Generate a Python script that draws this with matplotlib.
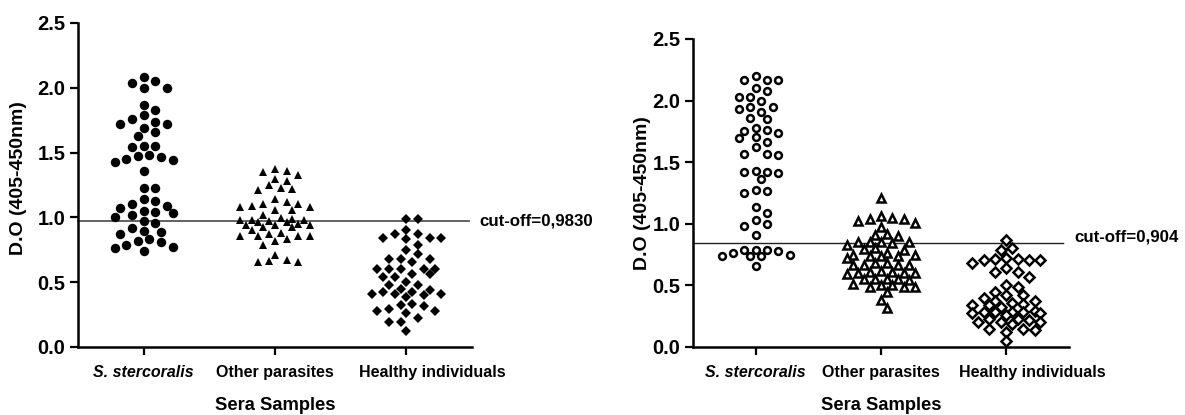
import numpy as np
import matplotlib.pyplot as plt
from matplotlib.transforms import ScaledTranslation

plt.rcParams['font.family'] = ['Liberation Sans', 'DejaVu Sans']
plt.rcParams['font.weight'] = 'bold'

categories = ['S. stercoralis', 'Other parasites', 'Healthy individuals']
y_ticks = [0.0, 0.5, 1.0, 1.5, 2.0, 2.5]

# left panel: D.O values
left_strongy = [2.08, 2.04, 2.00, 2.00, 2.05, 1.87, 1.83, 1.79, 1.76, 1.735, 1.72, 1.72,
                1.69, 1.66, 1.625, 1.55, 1.55, 1.54, 1.485, 1.465, 1.47, 1.45, 1.44, 1.43,
                1.355, 1.225, 1.225, 1.14, 1.125, 1.10, 1.09, 1.07, 1.05, 1.045, 1.03, 1.02,
                1.00, 0.97, 0.955, 0.915, 0.895, 0.885, 0.87, 0.83, 0.815, 0.81, 0.79,
                0.775, 0.765, 0.74]
left_other = [1.37, 1.36, 1.35, 1.33, 1.30, 1.28, 1.25, 1.23, 1.22, 1.21, 1.145, 1.12,
              1.10, 1.10, 1.09, 1.08, 1.08, 1.06, 1.06, 1.02, 0.995, 0.99, 0.98, 0.98,
              0.98, 0.975, 0.965, 0.965, 0.95, 0.945, 0.94, 0.94, 0.925, 0.925, 0.90,
              0.88, 0.87, 0.86, 0.86, 0.86, 0.855, 0.835, 0.82, 0.79, 0.71, 0.67, 0.66,
              0.655, 0.655]
left_healthy = [0.985, 0.985, 0.90, 0.875, 0.875, 0.84, 0.84, 0.84, 0.83, 0.79, 0.745,
                0.715, 0.68, 0.68, 0.68, 0.655, 0.605, 0.605, 0.605, 0.605, 0.605, 0.565,
                0.565, 0.54, 0.54, 0.505, 0.48, 0.48, 0.45, 0.44, 0.425, 0.425, 0.405,
                0.405, 0.405, 0.40, 0.385, 0.33, 0.32, 0.325, 0.295, 0.275, 0.275, 0.26,
                0.22, 0.195, 0.19, 0.125]
left_cutoff = 0.97
left_cutoff_label = 'cut-off=0,9830'

# right panel
right_strongy = [2.20, 2.17, 2.17, 2.17, 2.10, 2.08, 2.03, 2.03, 2.00, 1.95, 1.945, 1.93,
                 1.91, 1.855, 1.85, 1.78, 1.76, 1.755, 1.735, 1.705, 1.695, 1.66, 1.625,
                 1.57, 1.57, 1.56, 1.425, 1.42, 1.42, 1.41, 1.36, 1.275, 1.265, 1.25,
                 1.14, 1.085, 1.03, 1.00, 0.98, 0.91, 0.79, 0.79, 0.785, 0.78, 0.76, 0.75,
                 0.74, 0.74, 0.735, 0.655]
right_other = [1.21, 1.06, 1.05, 1.04, 1.035, 1.02, 1.01, 0.97, 0.915, 0.91, 0.90, 0.855,
               0.855, 0.85, 0.85, 0.84, 0.83, 0.80, 0.795, 0.79, 0.76, 0.75, 0.745, 0.74,
               0.735, 0.735, 0.72, 0.68, 0.68, 0.665, 0.665, 0.665, 0.665, 0.62, 0.61,
               0.61, 0.60, 0.60, 0.60, 0.59, 0.555, 0.55, 0.55, 0.55, 0.545, 0.51, 0.50,
               0.50, 0.49, 0.49, 0.49, 0.445, 0.38, 0.32]
right_healthy = [0.87, 0.80, 0.79, 0.725, 0.715, 0.715, 0.705, 0.705, 0.705, 0.685, 0.64,
                 0.61, 0.61, 0.57, 0.505, 0.49, 0.45, 0.42, 0.42, 0.395, 0.375, 0.37,
                 0.355, 0.345, 0.34, 0.34, 0.325, 0.29, 0.28, 0.28, 0.28, 0.28, 0.275,
                 0.275, 0.26, 0.23, 0.225, 0.22, 0.205, 0.205, 0.205, 0.19, 0.15, 0.15,
                 0.14, 0.12, 0.045]
right_cutoff = 0.84
right_cutoff_label = 'cut-off=0,904'


def swarm(ax, values, step_px, min_px, max_slot=3):
    """x offsets (data units) for a GraphPad-like column scatter"""
    bbox = ax.get_window_extent()
    x0, x1 = ax.get_xlim()
    y0, y1 = ax.get_ylim()
    sx = bbox.width / (x1 - x0)
    sy = bbox.height / (y1 - y0)
    slots = [0.0]
    k = 0.5
    while k <= max_slot:
        slots += [k, -k]
        k += 0.5
    placed = []
    offsets = []
    for v in values:
        py = v * sy
        best, best_d = 0.0, -1
        for s in slots:
            px = s * step_px
            d = min([np.hypot(px - qx, py - qy) for qx, qy in placed] or [1e9])
            if d >= min_px:
                best = s
                break
            if d > best_d:
                best, best_d = s, d
        placed.append((best * step_px, py))
        offsets.append(best * step_px / sx)
    return np.array(offsets)


def style_axes(ax, ylabel_x, ylabel_y, xlabel_y):
    ax.set_xlim(-0.5, 2.5)
    ax.set_ylim(0, 2.5)
    for side in ['top', 'right']:
        ax.spines[side].set_visible(False)
    for side in ['left', 'bottom']:
        ax.spines[side].set_linewidth(1.8)
    ax.set_yticks(y_ticks)
    ax.set_yticklabels([f'{t:.1f}' for t in y_ticks], fontsize=14.5, fontweight='bold')
    ax.set_xticks(range(3))
    ax.set_xticklabels(categories, fontsize=11.5, fontweight='bold')
    ax.tick_params(axis='both', direction='out', length=6, width=1.6, pad=3)
    ax.tick_params(axis='x', pad=7)
    labels = ax.get_xticklabels()
    labels[0].set_style('italic')
    # the last category label sits a little right of its tick in the original
    labels[2].set_transform(labels[2].get_transform() +
                            ScaledTranslation(0.26, 0, fig.dpi_scale_trans))
    ax.set_xlabel('Sera Samples', fontsize=13.2, fontweight='bold', va='center')
    ax.xaxis.set_label_coords(0.5, xlabel_y)
    ax.set_ylabel('D.O (405-450nm)', fontsize=14, fontweight='bold', va='center')
    ax.yaxis.set_label_coords(ylabel_x, ylabel_y)


fig = plt.figure(figsize=(11.85, 4.15), dpi=100)
ax1 = fig.add_axes([0.0658, 0.1639, 0.3325, 0.7807])
ax2 = fig.add_axes([0.5848, 0.1639, 0.3173, 0.7422])
style_axes(ax1, -0.15, 0.52, -0.18)
style_axes(ax2, -0.133, 0.5, -0.19)

# left: filled markers
groups1 = [(left_strongy, 'o', 6.8, 11.6, 9.5), (left_other, '^', 6.4, 11.6, 8.5),
           (left_healthy, 'D', 5.4, 11.6, 9.0)]
for i, (vals, mk, ms, step, mind) in enumerate(groups1):
    vals = sorted(vals, reverse=True)
    xo = swarm(ax1, vals, step, mind)
    ax1.plot(i + xo, vals, linestyle='none', marker=mk, markersize=ms,
             color='black', markeredgewidth=0, clip_on=False, zorder=3)

# right: open markers
groups2 = [(right_strongy, 'o', 4.9, 11.3, 9.0), (right_other, '^', 5.6, 11.3, 8.5),
           (right_healthy, 'D', 4.8, 11.3, 9.0)]
for i, (vals, mk, ms, step, mind) in enumerate(groups2):
    vals = sorted(vals, reverse=True)
    xo = swarm(ax2, vals, step, mind)
    ax2.plot(i + xo, vals, linestyle='none', marker=mk, markersize=ms,
             markerfacecolor='white', markeredgecolor='black', markeredgewidth=1.8,
             clip_on=False, zorder=3)

ax1.plot([-0.5, 2.48], [left_cutoff, left_cutoff], color='#555555', linewidth=1.3,
         zorder=2, clip_on=False)
ax1.text(2.56, left_cutoff, left_cutoff_label, fontsize=12.2, fontweight='bold',
         va='center', ha='left')
ax2.plot([-0.5, 2.45], [right_cutoff, right_cutoff], color='#222222', linewidth=1.0,
         zorder=2, clip_on=False)
ax2.text(2.54, right_cutoff + 0.05, right_cutoff_label, fontsize=12.2, fontweight='bold',
         va='center', ha='left')

fig.savefig('out.png', dpi=100)
